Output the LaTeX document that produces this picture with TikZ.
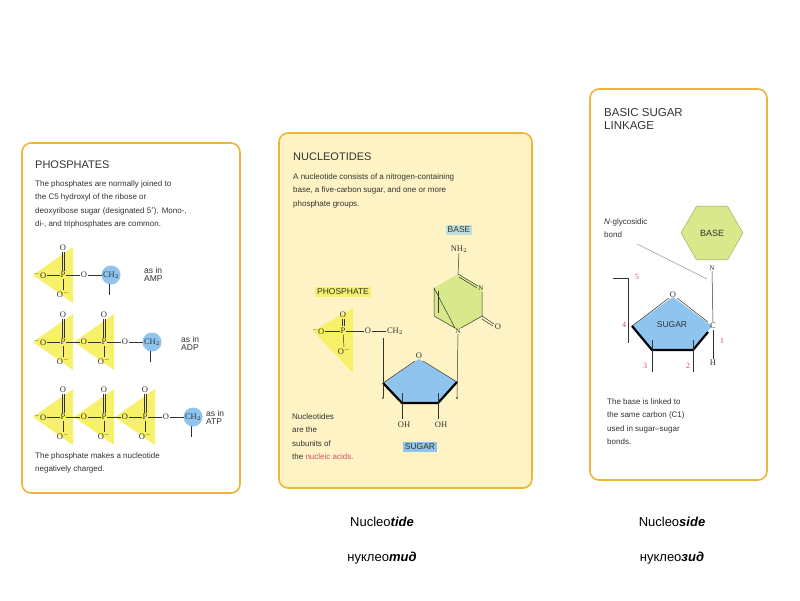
\documentclass[tikz,border=0pt]{standalone}
\usepackage{fontspec}
\setmainfont{Liberation Sans}
\newfontfamily\chem{Liberation Serif}
\usetikzlibrary{shapes.geometric}
\definecolor{frame}{HTML}{EFB43A}
\definecolor{pyel}{HTML}{F6F06A}
\definecolor{sblue}{HTML}{8EC4EE}
\definecolor{bgreen}{HTML}{D8E88A}
\definecolor{cream}{HTML}{FDF3C4}
\definecolor{nred}{HTML}{D4506A}
\definecolor{txt}{HTML}{333333}
\definecolor{tealbox}{HTML}{BFE0DA}
\begin{document}
\begin{tikzpicture}[x=1pt,y=-1pt,
  panel/.style={draw=frame,line width=1.6pt,rounded corners=9pt},
  ttl/.style={anchor=west,font=\fontsize{11}{12}\selectfont,text=txt,inner sep=0},
  body/.style={anchor=north west,font=\fontsize{8}{13.5}\selectfont,text=txt,inner sep=0,align=left},
  atm/.style={font=\chem\fontsize{8.5}{9}\selectfont,inner sep=0.6pt,text=txt},
  bd/.style={draw=txt,line width=0.5pt},
  lbl/.style={font=\fontsize{8.5}{9}\selectfont,text=txt,inner sep=2pt},
  num/.style={font=\chem\fontsize{8}{9}\selectfont,text=nred,inner sep=0}]
\useasboundingbox (0,0) rectangle (800,600);
\fill[white] (0,0) rectangle (800,600);
% panels
\draw[panel,fill=white] (22,143) rectangle (240,493);
\draw[panel,fill=cream] (279,133) rectangle (532,488);
\draw[panel,fill=white] (590,89) rectangle (767,480);

% ---------- PHOSPHATES ----------
\node[ttl] (t1) at (35,165) {PHOSPHATES};
\node[body] (b1) at (35,180) {The phosphates are normally joined to\\the C5 hydroxyl of the ribose or\\deoxyribose sugar (designated 5$'$). Mono-,\\di-, and triphosphates are common.};
\foreach \y/\n/\r in {275/1/0,342/2/1,417/3/2}{
  \begin{scope}[shift={(0,\y)}]
  \foreach \i in {1,...,\n}{
    \pgfmathsetmacro{\px}{63+41*(\i-1)}
    \fill[pyel] (\px-30,0) -- (\px+10,-28) -- (\px+10,28) -- cycle;
  }
  \foreach \i in {1,...,\n}{
    \pgfmathsetmacro{\px}{63+41*(\i-1)}
    \node[atm] (p\r\i) at (\px,0) {P};
    \node[atm] (ot\r\i) at (\px,-27) {O};
    \node[atm] (ob\r\i) at (\px,19) {O$^{-}$};
    \draw[bd] ([xshift=-1pt]ot\r\i.south) -- ([xshift=-1pt]p\r\i.north);
    \draw[bd] ([xshift=1pt]ot\r\i.south) -- ([xshift=1pt]p\r\i.north);
    \draw[bd] (p\r\i) -- (ob\r\i.north);
    \node[atm] (oa\r\i) at (\px+21,0) {O};
    \draw[bd] (p\r\i) -- (oa\r\i);
  }
  \node[atm] (om\r) at (40,0) {$^{-}$O};
  \draw[bd] (om\r) -- (p\r1);
  \pgfmathsetmacro{\cx}{63+41*(\n-1)+48}
  \fill[sblue] (\cx,0) circle (9.5);
  \node[atm] (ch\r) at (\cx,0) {CH$_2$};
  \ifnum\n>1
  \foreach \i in {2,...,\n}{
    \pgfmathtruncatemacro{\j}{\i-1}
    \draw[bd] (oa\r\j) -- (p\r\i);
  }
  \fi
  \draw[bd] (oa\r\n) -- (ch\r);
  \draw[bd] (\cx-2,9) -- (\cx-2,20);
  \end{scope}
}
\node[lbl,anchor=west,align=left] (amp) at (142,274) {as in\\[-1pt]AMP};
\node[lbl,anchor=west,align=left] (adp) at (179,343) {as in\\[-1pt]ADP};
\node[lbl,anchor=west,align=left] (atp) at (204,417) {as in\\[-1pt]ATP};
\node[body] (b1b) at (35,452) {The phosphate makes a nucleotide\\negatively charged.};

% ---------- NUCLEOTIDES ----------
\node[ttl] (t2) at (293,157) {NUCLEOTIDES};
\node[body] (b2) at (293,173) {A nucleotide consists of a nitrogen-containing\\base, a five-carbon sugar, and one or more\\phosphate groups.};
\node[lbl,fill=tealbox] (baselbl) at (459,230) {BASE};
% pyrimidine ring
\fill[bgreen] (458,274) -- (482,288) -- (482,316) -- (458,330) -- (434,316) -- (434,288) -- cycle;
\draw[bd] (458,274) -- (478,286) (482,292) -- (482,316) -- (461,328) (455,328) -- (434,316) -- (434,288) -- cycle;
\draw[bd] (438,291) -- (438,313);
\draw[bd] (459,277) -- (477,288);
\node[atm] (n3) at (481,288) {\scriptsize N};
\node[atm] (n1) at (458,331) {\scriptsize N};
\node[atm] (o2) at (498,327) {O};
\draw[bd] (482,316) -- (494,324);
\draw[bd] (482,319) -- (493,326);
\node[atm] (nh2) at (459,249) {NH$_2$};
\draw[bd] (nh2.south) -- (458,274);
% phosphate
\node[lbl,fill=pyel] (plbl) at (343,292) {PHOSPHATE};
\fill[pyel] (313,331) -- (353,308) -- (353,373) -- cycle;
\node[atm] (pp) at (343,331) {P};
\node[atm] (pot) at (343,315) {O};
\node[atm] (pob) at (344,351) {O$^{-}$};
\node[atm] (pom) at (318,331) {$^{-}$O};
\node[atm] (poa) at (368,331) {O};
\node[atm] (pch) at (395,331) {CH$_2$};
\draw[bd] (pom) -- (pp) -- (poa) -- (pch);
\draw[bd] (342,319) -- (342,326) (344,319) -- (344,326);
\draw[bd] (pp) -- (pob.north);
% sugar
\fill[sblue] (419,359) -- (457,382) -- (438,403) -- (402,403) -- (383,383) -- cycle;
\draw[bd] (383,383) -- (415,361) (423,361) -- (457,382);
\draw[line width=2.2pt] (383,383) -- (402,403) -- (438,403) -- (457,382);
\node[atm] (so) at (419,356) {O};
\draw[bd] (383,338) -- (383,397);
\fill (383,398) circle (0.9);
\draw[bd] (n1.south) -- (457,397);
\fill (457,398) circle (0.9);
\draw[bd] (402,393) -- (402,403) (438,393) -- (438,403);
\draw[bd] (402,403) -- (402,419) (438,403) -- (438,419);
\node[atm] (oh1) at (404,425) {OH};
\node[atm] (oh2) at (441,425) {OH};
\node[lbl,fill=sblue] (sugarlbl) at (420,447) {SUGAR};
\node[body] (b2b) at (292,413) {Nucleotides\\are the\\subunits of\\the \textcolor{nred}{nucleic acids.}};

% ---------- BASIC SUGAR LINKAGE ----------
\node[ttl,anchor=north west,align=left,font=\fontsize{11.5}{13}\selectfont] (t3) at (604,108) {BASIC SUGAR\\LINKAGE};
\node[body] (b3) at (604,218) {\textit{N}-glycosidic\\bond};
\draw[draw=black!40,line width=0.5pt] (637,244) -- (707,279);
\node[regular polygon,regular polygon sides=6,minimum size=62pt,fill=bgreen,draw=bgreen!70!black,line width=0.4pt,font=\fontsize{9}{10}\selectfont,text=txt,inner sep=0] (hex) at (712,233) {BASE};
\node[atm] (gn) at (712,268) {\scriptsize N};
\fill[sblue] (673,297) -- (712,326) -- (693,350) -- (652,350) -- (632,326) -- cycle;
\draw[bd] (632,326) -- (669,298) (677,298) -- (708,322);
\draw[line width=2.2pt] (632,326) -- (652,350) -- (693,350) -- (708,332);
\node[atm] (go) at (673,295) {O};
\node[atm] (gc) at (713,326) {C};
\node[lbl] (gs) at (672,325) {SUGAR};
\draw[bd] (gn.south) -- (gc.north);
\node[atm] (gh) at (713,363) {H};
\draw[bd] (gc.south) -- (gh.north);
\draw[bd] (613,278) -- (628,278) -- (628,343);
\draw[bd] (652,340) -- (652,372) (693,340) -- (693,372);
\node[num] (n5) at (637,277) {5};
\node[num] (n4) at (624,325) {4};
\node[num] (n3b) at (645,366) {3};
\node[num] (n2b) at (688,366) {2};
\node[num] (n1b) at (722,341) {1};
\node[body] (b3b) at (607,398) {The base is linked to\\the same carbon (C1)\\used in sugar–sugar\\bonds.};

% ---------- bottom words ----------
\node[font=\fontsize{13}{14}\selectfont] (w1) at (382,522) {Nucleo\textbf{\textit{tide}}};
\node[font=\fontsize{13}{14}\selectfont] (w2) at (382,558) {нуклео\textbf{\textit{тид}}};
\node[font=\fontsize{13}{14}\selectfont] (w3) at (672,522) {Nucleo\textbf{\textit{side}}};
\node[font=\fontsize{13}{14}\selectfont] (w4) at (672,558) {нуклео\textbf{\textit{зид}}};
\end{tikzpicture}
\end{document}
